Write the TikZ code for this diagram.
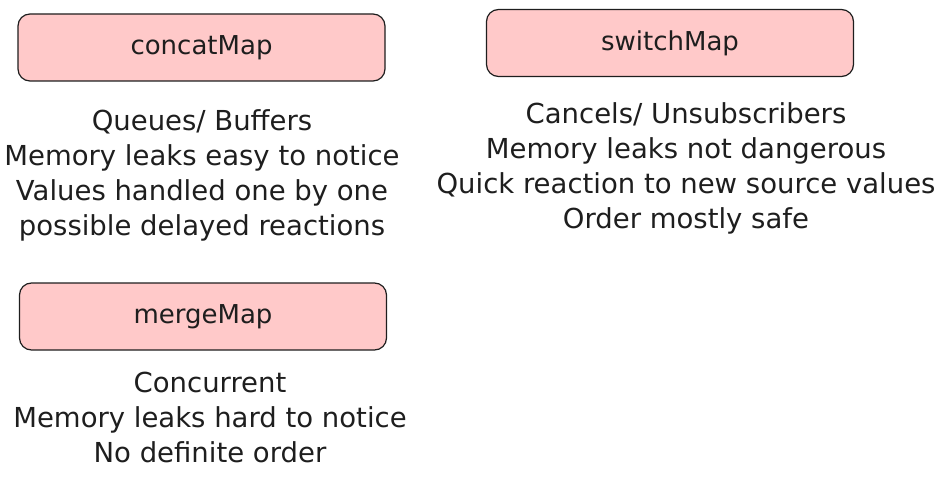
\documentclass[tikz,border=0pt]{standalone}
\usepackage{fontspec}
\setmainfont{DejaVu Sans}
\usepackage{tikz}
\usetikzlibrary{positioning}

\begin{document}
\begin{tikzpicture}[x=1pt, y=-1pt]
	\definecolor{mappink}{RGB}{255,201,201}
	\definecolor{mapink}{RGB}{30,30,30}
	\tikzset{
		mapbox/.style={
			shape=rectangle,
			draw=mapink,
			fill=mappink,
			line width=1.2pt,
			rounded corners=12pt,
			minimum width=367pt,
			minimum height=67pt,
			font=\fontsize{26}{30}\selectfont,
			text=mapink
		},
		mapnote/.style={
			align=center,
			font=\fontsize{27.5}{35}\selectfont,
			text=mapink
		}
	}
	\useasboundingbox (0,0) rectangle (948,481);

	% drei Operatoren mit ihren Eigenschaften
	\node[mapbox] (concat) at (201.5,47.5) {concatMap};
	\node[mapnote] (concatNote) at (202,175) {Queues/ Buffers\\Memory leaks easy to notice\\Values handled one by one\\possible delayed reactions};

	\node[mapbox] (switch) at (670,43) {switchMap};
	\node[mapnote] (switchNote) at (686,168) {Cancels/ Unsubscribers\\Memory leaks not dangerous\\Quick reaction to new source values\\Order mostly safe};

	\node[mapbox] (merge) at (203,316.5) {mergeMap};
	\node[mapnote] (mergeNote) at (210,417) {Concurrent\\Memory leaks hard to notice\\No definite order};
\end{tikzpicture}
\end{document}
